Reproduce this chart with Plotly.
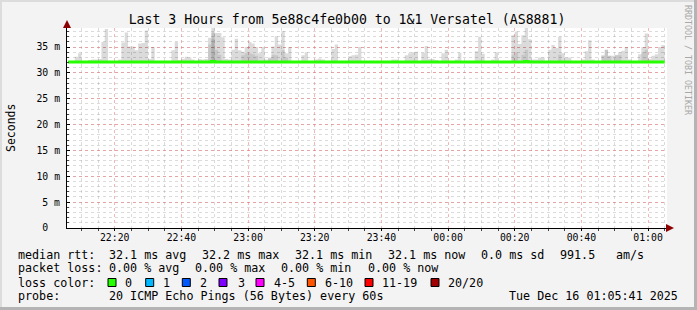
import plotly.graph_objects as go
import pandas as pd

# ---------------- data ----------------
# upper edge of the smoke (slowest ping) per minute, ms; first minute = 22:06
smoke_top = [
    32.3, 32.3, 33.1, 33.8, 32.3, 32.3, 32.5, 32.6, 32.6, 32.7,
    36.0, 38.5, 32.3, 32.3, 32.3, 32.6, 35.9, 37.8, 35.1, 35.1,
    34.4, 35.7, 35.8, 38.2, 32.7, 35.0, 32.3, 32.3, 32.3, 32.3,
    32.3, 34.4, 36.0, 32.5, 32.7, 33.1, 33.0, 32.6, 32.3, 32.7,
    32.6, 32.7, 36.8, 38.7, 37.7, 37.7, 36.9, 32.7, 32.6, 34.5,
    36.6, 34.4, 34.1, 35.0, 36.0, 35.7, 35.0, 33.8, 35.0, 32.6,
    33.0, 35.1, 37.1, 35.5, 38.1, 33.8, 35.0, 32.3, 32.3, 32.3,
    33.4, 34.0, 32.3, 32.3, 32.6, 32.8, 32.6, 32.3, 32.3, 34.6,
    35.5, 32.3, 32.3, 32.3, 33.2, 33.4, 33.5, 35.0, 32.3, 32.3,
    32.3, 32.3, 32.3, 32.3, 32.3, 32.3, 32.3, 32.6, 32.6, 32.3,
    32.3, 33.4, 33.8, 34.0, 34.1, 32.3, 33.9, 35.2, 32.7, 32.7,
    32.5, 32.3, 33.8, 34.5, 32.3, 32.3, 32.6, 33.9, 32.3, 32.3,
    32.3, 32.3, 34.2, 37.0, 33.7, 32.3, 32.3, 32.6, 34.0, 32.3,
    32.3, 32.3, 32.3, 37.3, 38.0, 35.6, 37.3, 38.7, 36.5, 32.6,
    32.6, 33.0, 33.0, 32.3, 34.5, 35.4, 34.8, 37.0, 33.8, 33.0,
    33.0, 32.3, 32.3, 32.3, 32.6, 34.2, 36.3, 32.6, 32.3, 32.3,
    33.3, 34.5, 33.3, 33.3, 33.4, 34.0, 34.3, 35.0, 32.6, 32.3,
    32.3, 33.6, 35.0, 37.6, 32.7, 33.3, 33.6, 35.0, 35.4,
]
# median rtt per minute, ms
median_rtt = [
    32.1, 32.1, 32.1, 32.1, 32.1, 32.1, 32.1, 32.1, 32.1, 32.1,
    32.1, 32.1, 32.1, 32.1, 32.1, 32.1, 32.1, 32.1, 32.1, 32.1,
    32.1, 32.1, 32.1, 32.1, 32.1, 32.1, 32.1, 32.1, 32.1, 32.1,
    32.1, 32.1, 32.1, 32.1, 32.1, 32.1, 32.1, 32.1, 32.1, 32.1,
    32.1, 32.1, 32.1, 32.2, 32.1, 32.1, 32.1, 32.1, 32.1, 32.1,
    32.1, 32.1, 32.1, 32.1, 32.1, 32.1, 32.1, 32.1, 32.1, 32.1,
    32.1, 32.1, 32.1, 32.1, 32.1, 32.1, 32.1, 32.1, 32.1, 32.1,
    32.1, 32.1, 32.1, 32.1, 32.1, 32.1, 32.1, 32.1, 32.1, 32.1,
    32.1, 32.1, 32.1, 32.1, 32.1, 32.1, 32.1, 32.1, 32.1, 32.1,
    32.1, 32.1, 32.1, 32.1, 32.1, 32.1, 32.1, 32.1, 32.1, 32.1,
    32.1, 32.1, 32.1, 32.1, 32.1, 32.1, 32.1, 32.1, 32.1, 32.1,
    32.1, 32.1, 32.1, 32.1, 32.1, 32.1, 32.1, 32.1, 32.1, 32.1,
    32.1, 32.1, 32.1, 32.1, 32.1, 32.1, 32.1, 32.1, 32.1, 32.1,
    32.1, 32.1, 32.1, 32.1, 32.1, 32.1, 32.1, 32.2, 32.1, 32.1,
    32.1, 32.1, 32.1, 32.1, 32.1, 32.1, 32.1, 32.1, 32.1, 32.1,
    32.1, 32.1, 32.1, 32.1, 32.1, 32.1, 32.1, 32.1, 32.1, 32.1,
    32.1, 32.1, 32.1, 32.1, 32.1, 32.1, 32.1, 32.1, 32.1, 32.1,
    32.1, 32.1, 32.1, 32.1, 32.1, 32.1, 32.1, 32.1, 32.1,
]
# darker inner smoke band (minute index, upper edge in ms)
inner_minutes = [42, 43, 44, 45, 52, 53, 54, 55, 56, 60, 61, 62, 64, 65,
                 133, 134, 136, 137, 147, 160, 161, 162, 164, 165, 172, 173]
inner_top = [35.5, 36.5, 34.5, 33.5, 33.4, 33.8, 33.8, 33.6, 33.3, 32.8, 33.5, 33.4, 34.4, 33.0,
             33.5, 34.0, 33.5, 34.5, 33.5, 33.5, 34.5, 33.3, 33.5, 33.4, 34.0, 34.5]
core_minutes = [43]
core_top = [37.8]
smoke_floor = 32.0          # fastest ping, ms

y_tick_vals = [0, 5, 10, 15, 20, 25, 30, 35]
y_tick_text = ["0\u00a0\u00a0", "5 m", "10 m", "15 m", "20 m", "25 m", "30 m", "35 m"]

start_time = "2025-12-15 22:06:00"
x_range = ["2025-12-15 22:05:41", "2025-12-16 01:05:41"]

loss_labels = ["0", "1", "2", "3", "4-5", "6-10", "11-19", "20/20"]
loss_colors = ["#26ff00", "#00b8ff", "#0059ff", "#7e00ff", "#ff00ff", "#ff5500", "#ff0000", "#a10000"]

stats_line1 = ["median rtt:", "32.1 ms avg", "32.2 ms max", "32.1 ms min", "32.1 ms now",
               "0.0 ms sd", "991.5", "am/s"]
stats_line2 = ["packet loss:", "0.00 % avg", "0.00 % max", "0.00 % min", "0.00 % now"]
probe_text = ["probe:", "20 ICMP Echo Pings (56 Bytes) every 60s"]
stamp_text = "Tue Dec 16 01:05:41 2025"
title_text = "Last 3 Hours from 5e88c4fe0b00 to 1&1 Versatel (AS8881)"

# ---------------- layout geometry ----------------
W, H = 697, 310
L, R, T, B = 67, 30, 28, 82
PW, PH = W - L - R, H - T - B
MONO = "DejaVu Sans Mono"


def px(x):
    return (x - L) / PW


def py(y):
    return (H - B - y) / PH


times = pd.date_range(start_time, periods=len(smoke_top), freq="min")
minute = pd.Timedelta(minutes=1)
step_x = list(times) + [times[-1] + minute]


def band(top_values, color):
    """Step-shaped smoke band from the floor up to top_values."""
    ys = list(top_values) + [top_values[-1]]
    fig.add_scatter(x=step_x, y=[smoke_floor] * len(step_x), mode="lines",
                    line=dict(width=0, shape="hv"), hoverinfo="skip")
    fig.add_scatter(x=step_x, y=ys, mode="lines", fill="tonexty", fillcolor=color,
                    line=dict(width=0, shape="hv"), hoverinfo="skip")


def sparse_to_full(minutes_idx, tops):
    full = [smoke_floor] * len(smoke_top)
    for i, v in zip(minutes_idx, tops):
        full[i] = v
    return full


fig = go.Figure()
band(smoke_top, "rgba(0,0,0,0.14)")
band(sparse_to_full(inner_minutes, inner_top), "rgba(0,0,0,0.09)")
band(sparse_to_full(core_minutes, core_top), "rgba(0,0,0,0.12)")
fig.add_scatter(x=step_x, y=median_rtt + [median_rtt[-1]],
                mode="lines", line=dict(color="#26ff00", width=3, shape="hv"),
                hoverinfo="skip")

fig.update_layout(
    width=W, height=H, margin=dict(l=L, r=R, t=T, b=B),
    paper_bgcolor="#f3f3f3", plot_bgcolor="#ffffff",
    showlegend=False,
    font=dict(family=MONO, color="#000000"),
    title=dict(text=title_text, x=347 / W, xanchor="center", y=1 - 19 / H, yanchor="middle",
               font=dict(family=MONO, size=13.2, color="#000000")),
)
fig.update_xaxes(
    type="date", range=x_range, tick0="2025-12-15 22:00:00", dtick=1200000,
    tickformat="%H:%M", tickfont=dict(family=MONO, size=9.8, color="#000000"),
    showgrid=True, gridcolor="rgba(240,110,110,0.5)", griddash="dot", gridwidth=1,
    ticks="outside", ticklen=2, tickcolor="#000000", ticklabelstandoff=-2,
    minor=dict(dtick=300000, showgrid=True, gridcolor="rgba(150,150,150,0.34)",
               griddash="dot", ticks="outside", ticklen=2, tickcolor="#444444"),
    showline=True, linecolor="#000000", linewidth=1, zeroline=False, fixedrange=True,
)
fig.update_yaxes(
    range=[0, PH / 5.17], tickvals=y_tick_vals, ticktext=y_tick_text,
    tickfont=dict(family=MONO, size=9.8, color="#000000"),
    showgrid=True, gridcolor="rgba(240,110,110,0.5)", griddash="dot", gridwidth=1,
    ticks="inside", ticklen=3, tickcolor="#000000", ticklabelstandoff=4,
    minor=dict(dtick=1, showgrid=True, gridcolor="rgba(150,150,150,0.34)",
               griddash="dot", ticks="inside", ticklen=2, tickcolor="#444444"),
    showline=True, linecolor="#000000", linewidth=1, zeroline=False, fixedrange=True,
)

ann = []
# axis arrows
ann.append(dict(xref="paper", yref="paper", x=0, y=1, yshift=8, ax=0, ay=9, text="",
                showarrow=True, arrowhead=2, arrowsize=1.6, arrowwidth=1, arrowcolor="#8b0000"))
ann.append(dict(xref="paper", yref="paper", x=1, y=0, xshift=7, ax=-8, ay=0, text="",
                showarrow=True, arrowhead=2, arrowsize=1.6, arrowwidth=1, arrowcolor="#8b0000"))
# y axis title
ann.append(dict(xref="paper", yref="paper", x=px(11), y=py(128), text="Seconds", textangle=-90,
                showarrow=False, xanchor="center", yanchor="middle",
                font=dict(family=MONO, size=11.5, color="#000000")))
# watermark
ann.append(dict(xref="paper", yref="paper", x=px(688), y=py(60), text="RRDTOOL / TOBI OETIKER",
                textangle=90, showarrow=False, xanchor="center", yanchor="middle",
                font=dict(family=MONO, size=8.3, color="#a8a8a8")))

FS = 11.7
def text_at(x, y, s, anchor="left"):
    ann.append(dict(xref="paper", yref="paper", x=px(x), y=py(y), text=s.replace(" ", "\u00a0"),
                    showarrow=False, xanchor=anchor, yanchor="middle",
                    font=dict(family=MONO, size=FS, color="#000000")))

line1_x = [16, 107.3, 200, 293, 386, 479, 558, 614]
for x, s in zip(line1_x, stats_line1):
    text_at(x, 254.5, s)
line2_x = [16, 107.3, 193.3, 279.3, 366]
for x, s in zip(line2_x, stats_line2):
    text_at(x, 268.3, s)
text_at(16, 282.5, "loss color:")
box_x = [108, 145.7, 182.3, 219, 256, 307.3, 365, 431]
label_x = [123.3, 161, 198.3, 235.7, 271.7, 323.3, 380, 445.7]
shapes = []
for bx, lx, lab, col in zip(box_x, label_x, loss_labels, loss_colors):
    shapes.append(dict(type="rect", xref="paper", yref="paper", x0=px(bx), x1=px(bx + 8),
                       y0=py(286.5), y1=py(278.5), fillcolor=col,
                       line=dict(color="#000000", width=1)))
    text_at(lx, 282.5, lab)
text_at(16, 296.3, probe_text[0])
text_at(107.3, 296.3, probe_text[1])
text_at(680, 296.3, stamp_text, anchor="right")

# image frame (3D border)
shapes.append(dict(type="rect", xref="paper", yref="paper", x0=px(0), x1=px(2), y0=py(H), y1=py(0),
                   fillcolor="#dcdcdc", line=dict(width=0), layer="above"))
shapes.append(dict(type="rect", xref="paper", yref="paper", x0=px(0), x1=px(W), y0=py(2), y1=py(0),
                   fillcolor="#dcdcdc", line=dict(width=0), layer="above"))
shapes.append(dict(type="rect", xref="paper", yref="paper", x0=px(W - 3), x1=px(W), y0=py(H), y1=py(0),
                   fillcolor="#b4b4b4", line=dict(width=0), layer="above"))
shapes.append(dict(type="rect", xref="paper", yref="paper", x0=px(0), x1=px(W), y0=py(H), y1=py(H - 3),
                   fillcolor="#b4b4b4", line=dict(width=0), layer="above"))

fig.update_layout(annotations=ann, shapes=shapes)
fig.write_html("out.html")
